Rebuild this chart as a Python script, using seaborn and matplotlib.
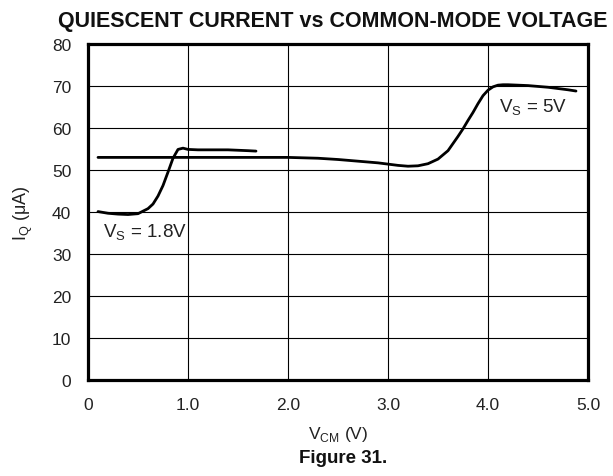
import matplotlib
matplotlib.use("Agg")
import matplotlib.pyplot as plt
import seaborn as sns
import pandas as pd

# Quiescent current vs common-mode voltage, two supply voltages
vcm_18 = [0.10, 0.20, 0.30, 0.40, 0.50, 0.60, 0.65, 0.70, 0.75, 0.80, 0.85,
          0.90, 0.95, 1.00, 1.10, 1.20, 1.30, 1.40, 1.50, 1.60, 1.68]
iq_18 = [40.1, 39.7, 39.5, 39.4, 39.6, 40.8, 41.9, 43.8, 46.3, 49.5, 52.8,
         54.9, 55.2, 54.9, 54.8, 54.8, 54.8, 54.8, 54.7, 54.6, 54.5]

vcm_5 = [0.10, 0.50, 1.00, 1.50, 2.00, 2.30, 2.50, 2.70, 2.90, 3.00, 3.10,
         3.20, 3.30, 3.40, 3.50, 3.60, 3.65, 3.70, 3.75, 3.80, 3.85, 3.90,
         3.95, 4.00, 4.05, 4.10, 4.15, 4.20, 4.30, 4.40, 4.50, 4.60, 4.70,
         4.80, 4.88]
iq_5 = [53.0, 53.0, 53.0, 53.0, 53.0, 52.8, 52.5, 52.1, 51.7, 51.4, 51.1,
        50.9, 51.0, 51.5, 52.6, 54.6, 56.3, 58.0, 59.8, 61.8, 63.7, 65.8,
        67.7, 69.0, 69.8, 70.2, 70.3, 70.3, 70.2, 70.1, 69.9, 69.7, 69.4,
        69.1, 68.8]

x_ticks = [0, 1.0, 2.0, 3.0, 4.0, 5.0]
x_tick_labels = ["0", "1.0", "2.0", "3.0", "4.0", "5.0"]
y_ticks = [0, 10, 20, 30, 40, 50, 60, 70, 80]

df = pd.concat([
    pd.DataFrame({"vcm": vcm_18, "iq": iq_18, "supply": "1.8V"}),
    pd.DataFrame({"vcm": vcm_5, "iq": iq_5, "supply": "5V"}),
])

sns.set_theme(style="white")
plt.rcParams["font.family"] = ["Liberation Sans", "DejaVu Sans"]

fig = plt.figure(figsize=(6.13, 4.77), dpi=100)
ax = fig.add_axes([88 / 613, 1 - 381 / 477, 500 / 613, 336 / 477])

sns.lineplot(data=df, x="vcm", y="iq", units="supply", estimator=None,
             color="black", linewidth=2.0, sort=False, ax=ax, legend=False)

ax.set_xlim(0, 5.0)
ax.set_ylim(0, 80)
ax.set_xticks(x_ticks)
ax.set_xticklabels(x_tick_labels)
ax.set_yticks(y_ticks)
ax.grid(True, color="black", linewidth=0.8)
ax.tick_params(axis="x", length=0, labelsize=12.5, colors="#222222", pad=12)
ax.tick_params(axis="y", length=0, labelsize=12.5, colors="#222222", pad=12)
for side in ax.spines.values():
    side.set_color("black")
    side.set_linewidth(2.3)

ax.set_xlabel(r"V$_{\mathregular{CM}}$ (V)", fontsize=12.5, color="#222222", labelpad=9)
ax.set_ylabel(r"I$_{\mathregular{Q}}$ ($\mathregular{\mu}$A)", fontsize=13, color="#222222", labelpad=12)

ax.text(0.15, 35.3, r"V$_{\mathregular{S}}$ = 1.8V", fontsize=13.5, color="#222222",
        va="center", ha="left")
ax.text(4.11, 65.0, r"V$_{\mathregular{S}}$ = 5V", fontsize=13.5, color="#222222",
        va="center", ha="left")

fig.text(333 / 613, 1 - 22 / 477, "QUIESCENT CURRENT vs COMMON-MODE VOLTAGE",
         ha="center", va="center", fontsize=15.5, fontweight="bold", color="#111111")
fig.text(343 / 613, 1 - 459 / 477, "Figure 31.", ha="center", va="center",
         fontsize=13.5, fontweight="bold", color="#111111")

fig.savefig("out.png", dpi=100)
